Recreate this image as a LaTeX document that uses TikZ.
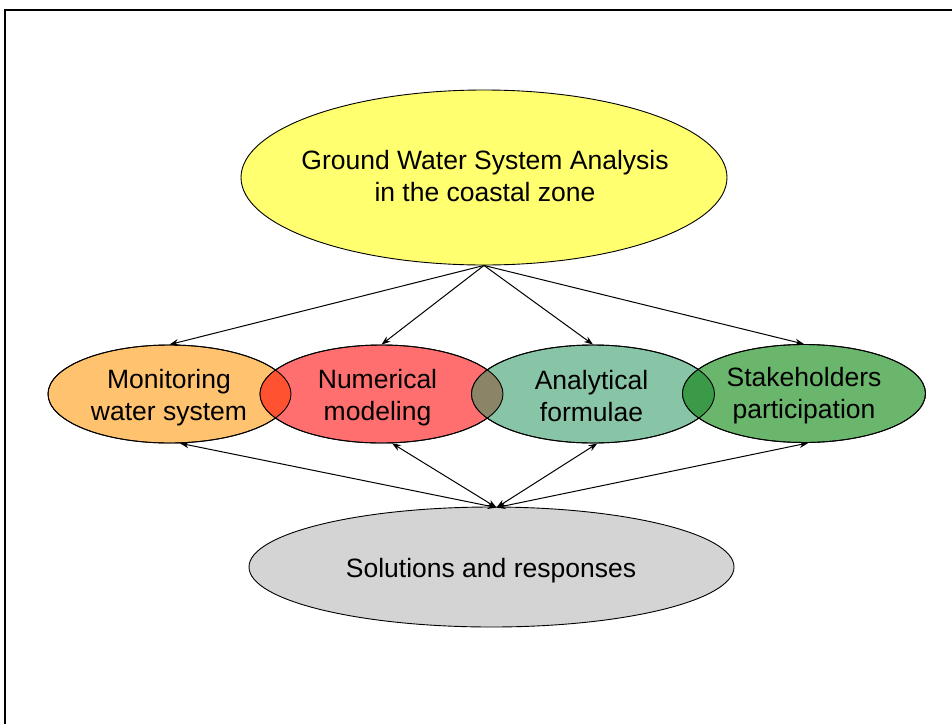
\documentclass[tikz,border=0pt]{standalone}
\usepackage{fontspec}
\setmainfont{Liberation Sans}
\usetikzlibrary{shapes.geometric,arrows.meta,calc}

\definecolor{cYellow}{RGB}{255,255,112}
\definecolor{cOrange}{RGB}{255,194,110}
\definecolor{cRed}{RGB}{255,111,111}
\definecolor{cTeal}{RGB}{136,196,166}
\definecolor{cGreen}{RGB}{106,182,108}
\definecolor{cGray}{RGB}{212,212,212}
\definecolor{lensOR}{RGB}{255,82,48}
\definecolor{lensRT}{RGB}{140,132,102}
\definecolor{lensTG}{RGB}{58,154,72}

\tikzset{
  blob/.style={ellipse, draw=black, line width=0.9pt, inner sep=0pt},
  topblob/.style={blob, minimum width=486pt, minimum height=175pt},
  midblob/.style={blob, minimum width=243pt, minimum height=98pt},
  lowblob/.style={blob, minimum width=485pt, minimum height=120pt},
  lbl/.style={align=center, inner sep=0pt, font=\fontsize{26.5}{31.8}\selectfont},
  down/.style={-{Stealth[length=9pt,width=6.5pt]}, line width=1pt},
  both/.style={{Stealth[length=9pt,width=6.5pt]}-{Stealth[length=9pt,width=6.5pt]}, line width=1pt},
}

\begin{document}
\begin{tikzpicture}[x=1pt,y=-1pt]
\useasboundingbox (0,0) rectangle (952,723);
\fill[white] (0,0) rectangle (952,723);

% slide frame
\draw[line width=2.5pt] (5,10) -- (960,10);
\draw[line width=1.5pt] (5,9) -- (5,730);

% ellipses
\node[topblob, fill=cYellow] (top) at (484,177.5) {};
\node[midblob, fill=cOrange] (mon) at (169.5,394) {};
\node[midblob, fill=cRed]    (num) at (381.5,394) {};
\node[midblob, fill=cTeal]   (ana) at (593,394) {};
\node[midblob, fill=cGreen]  (sta) at (804,393.5) {};
\node[lowblob, fill=cGray]   (sol) at (491.5,567) {};

% overlapping lenses
\begin{scope}
  \clip (mon.center) ellipse [x radius=121.5, y radius=49];
  \fill[lensOR] (num.center) ellipse [x radius=121.5, y radius=49];
\end{scope}
\begin{scope}
  \clip (num.center) ellipse [x radius=121.5, y radius=49];
  \fill[lensRT] (ana.center) ellipse [x radius=121.5, y radius=49];
\end{scope}
\begin{scope}
  \clip (ana.center) ellipse [x radius=121.5, y radius=49];
  \fill[lensTG] (sta.center) ellipse [x radius=121.5, y radius=49];
\end{scope}
\foreach \e in {mon,num,ana,sta}
  \draw[line width=0.9pt] (\e.center) ellipse [x radius=121.5, y radius=49];

% labels
\node[lbl] (tTop) at (485,176) {Ground Water System Analysis\\in the coastal zone};
\node[lbl] (tMon) at (169,398) {Monitoring\\water system};
\node[lbl] (tNum) at (377.5,398) {Numerical\\modeling};
\node[lbl] (tAna) at (591.5,396) {Analytical\\formulae};
\node[lbl] (tSta) at (804,396) {Stakeholders\\participation};
\node[lbl] (tSol) at (491,571) {Solutions and responses};

% connectors
\coordinate (hub) at ($(sol.north)+(5,1)$);
\foreach \e in {mon,num,ana,sta}
  \draw[down] (top.south) -- (\e.north);
\draw[both] (hub) -- (mon.-78);
\draw[both] (hub) -- (num.-78);
\draw[both] (hub) -- (ana.-85);
\draw[both] (hub) -- (sta.-85);
\end{tikzpicture}
\end{document}
